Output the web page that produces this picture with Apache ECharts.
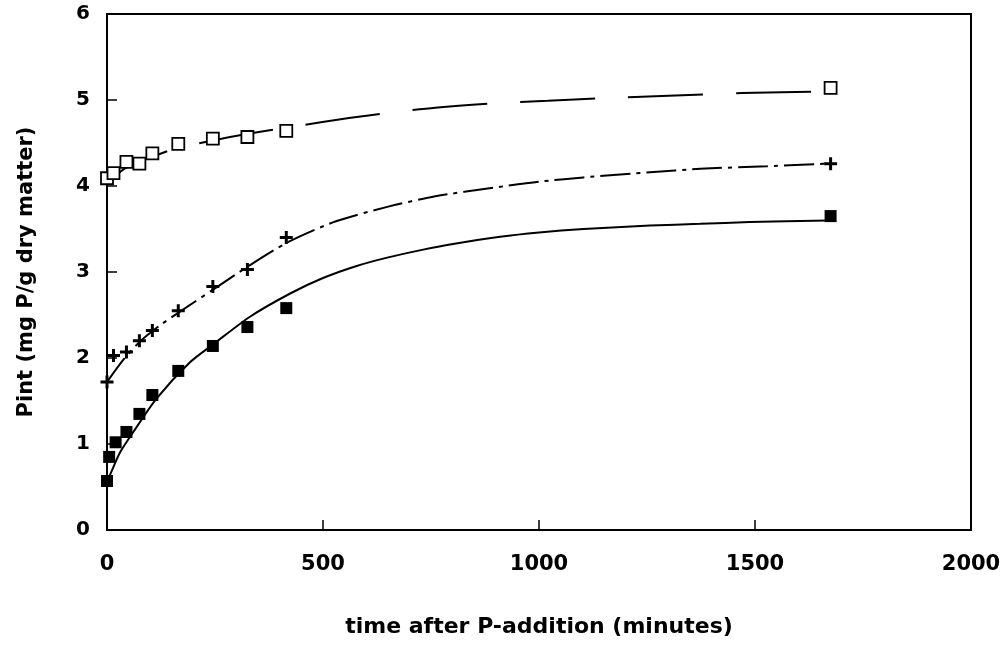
<!DOCTYPE html>
<html>
<head>
<meta charset="utf-8">
<script src="https://cdn.jsdelivr.net/npm/echarts@6/dist/echarts.min.js"></script>
<style>
  html, body { margin: 0; padding: 0; background: #fff; }
  #chart { width: 1008px; height: 645px; }
</style>
</head>
<body>
<div id="chart"></div>
<script>
// measured points (minutes, mg P/g)
var openT = [0, 15, 45, 75, 105, 165, 245, 325, 415, 1675];
var openY = [4.09, 4.15, 4.28, 4.26, 4.38, 4.49, 4.55, 4.57, 4.64, 5.14];

var plusT = [0, 15, 45, 75, 105, 165, 245, 325, 415, 1675];
var plusY = [1.72, 2.03, 2.07, 2.2, 2.32, 2.55, 2.83, 3.03, 3.4, 4.26];

var fillT = [0, 5, 20, 45, 75, 105, 165, 245, 325, 415, 1675];
var fillY = [0.57, 0.85, 1.02, 1.14, 1.35, 1.57, 1.85, 2.14, 2.36, 2.58, 3.65];

// fitted curves
var fitAT = [0, 40, 100, 155, 245, 330, 430, 560, 650, 760, 894, 1020, 1145, 1300, 1469, 1670];
var fitAY = [4.03, 4.2, 4.33, 4.43, 4.53, 4.61, 4.69, 4.79, 4.85, 4.91, 4.96, 4.99, 5.02, 5.05, 5.08, 5.1];

var fitBT = [0, 38, 76, 120, 169, 250, 331, 420, 530, 651, 760, 894, 1000, 1103, 1257, 1373, 1527, 1670];
var fitBY = [1.72, 1.98, 2.19, 2.37, 2.54, 2.81, 3.08, 3.35, 3.59, 3.76, 3.88, 3.98, 4.05, 4.1, 4.16, 4.2, 4.23, 4.26];

var fitCT = [0, 7, 30, 61, 115, 192, 246, 331, 424, 500, 578, 651, 732, 794, 910, 1000, 1103, 1257, 1373, 1488, 1670];
var fitCY = [0.57, 0.64, 0.9, 1.14, 1.53, 1.95, 2.16, 2.48, 2.75, 2.93, 3.07, 3.17, 3.26, 3.32, 3.41, 3.46, 3.5, 3.54, 3.56, 3.58, 3.6];

function pairs(xs, ys) {
  return xs.map(function (x, i) { return [x, ys[i]]; });
}

var ink = '#000';
var font = 'DejaVu Sans';
var plus = 'path://M5,0H8V5H13V8H8V13H5V8H0V5H5Z';

var chart = echarts.init(document.getElementById('chart'));
chart.setOption({
  backgroundColor: '#fff',
  animation: false,
  grid: {
    left: 107, right: 37, top: 14, bottom: 115,
    show: true, borderColor: ink, borderWidth: 2
  },
  xAxis: {
    type: 'value',
    min: 0, max: 2000, interval: 500,
    name: 'time after P-addition (minutes)',
    nameLocation: 'middle',
    nameGap: 86,
    nameTextStyle: { color: ink, fontFamily: font, fontWeight: 'bold', fontSize: 22 },
    axisLine: { lineStyle: { color: ink, width: 2 } },
    axisTick: { inside: true, length: 10, lineStyle: { color: ink, width: 1.5 } },
    axisLabel: {
      color: ink, fontFamily: font, fontWeight: 'bold', fontSize: 21, margin: 24,
      formatter: function (v) { return String(v); }
    },
    splitLine: { show: false }
  },
  yAxis: {
    type: 'value',
    min: 0, max: 6, interval: 1,
    name: 'Pint (mg P/g dry matter)',
    nameLocation: 'middle',
    nameGap: 70,
    nameTextStyle: { color: ink, fontFamily: font, fontWeight: 'bold', fontSize: 21 },
    axisLine: { lineStyle: { color: ink, width: 2 } },
    axisTick: { inside: true, length: 10, lineStyle: { color: ink, width: 1.5 } },
    axisLabel: { color: ink, fontFamily: font, fontWeight: 'bold', fontSize: 20, margin: 17 },
    splitLine: { show: false }
  },
  series: [
    {
      type: 'line', data: pairs(fitAT, fitAY), smooth: 0.25,
      symbol: 'none', lineStyle: { color: ink, width: 2, type: [75, 33], dashOffset: 6 }
    },
    {
      type: 'line', data: pairs(fitBT, fitBY), smooth: 0.25,
      symbol: 'none', lineStyle: { color: ink, width: 2, type: [30, 6, 4, 6] }
    },
    {
      type: 'line', data: pairs(fitCT, fitCY), smooth: 0.25,
      symbol: 'none', lineStyle: { color: ink, width: 2 }
    },
    {
      type: 'scatter', data: pairs(openT, openY), symbol: 'rect', symbolSize: 12,
      itemStyle: { color: '#fff', borderColor: ink, borderWidth: 1.8, opacity: 1 }, z: 5
    },
    {
      type: 'scatter', data: pairs(plusT, plusY), symbol: plus, symbolSize: 13,
      itemStyle: { color: ink, opacity: 1 }, z: 5
    },
    {
      type: 'scatter', data: pairs(fillT, fillY), symbol: 'rect', symbolSize: 12,
      itemStyle: { color: ink, opacity: 1 }, z: 5
    }
  ]
});
</script>
</body>
</html>
